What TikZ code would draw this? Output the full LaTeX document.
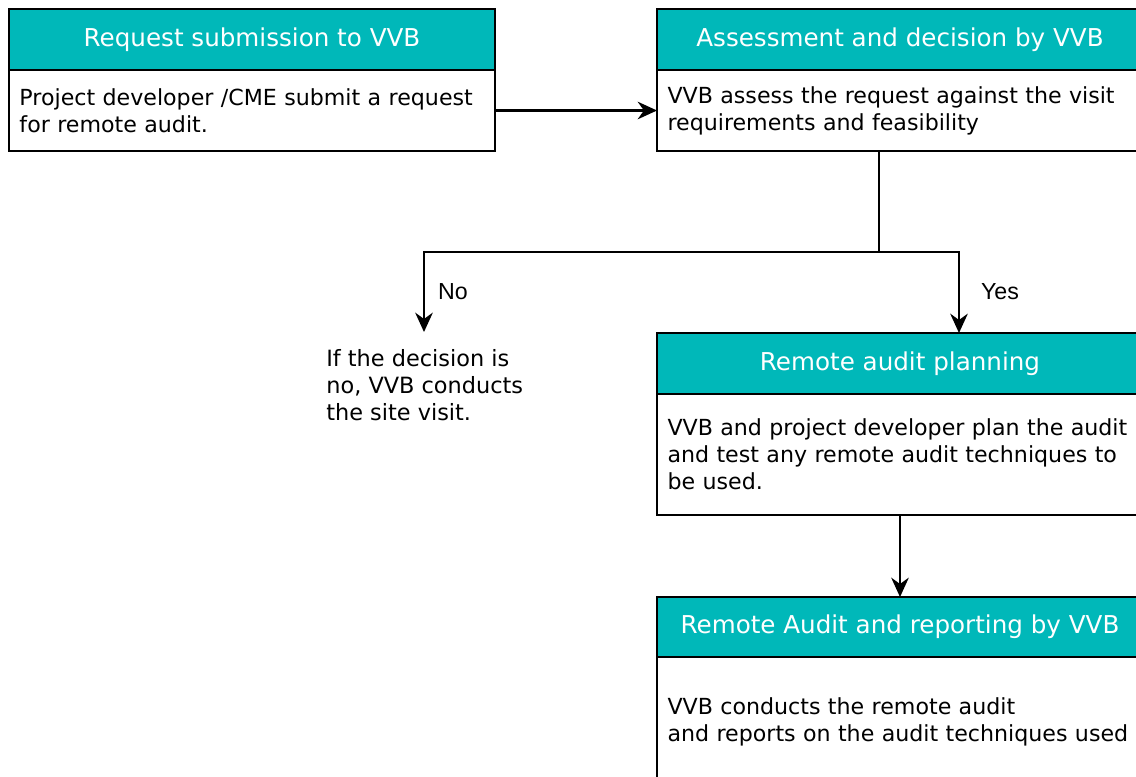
\documentclass[tikz,border=0pt]{standalone}
\usepackage{fontspec}
\setmainfont{DejaVu Sans}
\newfontfamily\labelfont{Liberation Sans}
\usetikzlibrary{positioning,arrows.meta}

\definecolor{headteal}{RGB}{0,184,185}

\tikzset{
    stagehead/.style={draw=black, line width=1.3pt, outer sep=0pt, fill=headteal, text=white,
        minimum width=9.72cm, minimum height=1.22cm, anchor=north west,
        font=\fontsize{14}{16}\selectfont},
    stagebody/.style={draw=black, line width=1.3pt, outer sep=0pt, fill=white,
        minimum width=9.72cm, text width=9.3cm, inner xsep=0.21cm, align=left,
        anchor=north, font=\fontsize{12.6}{15.3}\selectfont,
        execute at begin node={\hyphenpenalty=10000\relax}},
    flow/.style={line width=1.3pt, -{Stealth[length=11pt, width=10pt]}},
    branchlabel/.style={font=\labelfont\fontsize{13.2}{15}\selectfont}
}

\begin{document}
\begin{tikzpicture}
    \useasboundingbox (0,0) rectangle (22.72,-15.52);
    \clip (0,0) rectangle (22.72,-15.52);
    \fill[white] (0,0) rectangle (22.72,-15.52);

    % request submission
    \node[stagehead] (head1) at (0.18,-0.18) {Request submission to VVB};
    \node[stagebody, minimum height=1.62cm] (body1) at (head1.south) {Project developer /CME submit a request\\for remote audit.};

    % assessment
    \node[stagehead] (head2) at (13.14,-0.18) {Assessment and decision by VVB};
    \node[stagebody, minimum height=1.62cm] (body2) at (head2.south) {VVB assess the request against the visit\\requirements and feasibility};

    % planning
    \node[stagehead] (head3) at (13.14,-6.66) {Remote audit planning};
    \node[stagebody, minimum height=2.42cm] (body3) at (head3.south) {VVB and project developer plan the audit\\and test any remote audit techniques to\\be used.};

    % audit and reporting
    \node[stagehead, minimum height=1.2cm] (head4) at (13.14,-11.94) {Remote Audit and reporting by VVB};
    \node[stagebody, minimum height=2.6cm] (body4) at (head4.south) {VVB conducts the remote audit\\and reports on the audit techniques used};

    % decision branches
    \coordinate (split) at (17.58,-5.04);
    \coordinate (nostop) at (8.48,-6.64);
    \coordinate (yesturn) at (19.18,-5.04);
    \node[align=left, anchor=north west, inner sep=0pt, font=\fontsize{12.75}{15.3}\selectfont] (sitevisit) at (6.52,-6.99) {If the decision is\\no, VVB conducts\\the site visit.};
    \node[branchlabel] (nolabel) at (9.06,-5.84) {No};
    \node[branchlabel] (yeslabel) at (20.0,-5.84) {Yes};

    \draw[flow] (body1.east) -- (body2.west);
    \draw[line width=1.3pt] (body2.south -| split) -- (split);
    \draw[flow] (split) -| (nostop);
    \draw[flow] (split) -- (yesturn) -- (head3.north -| yesturn);
    \draw[flow] (body3.south) -- (head4.north);
\end{tikzpicture}
\end{document}
